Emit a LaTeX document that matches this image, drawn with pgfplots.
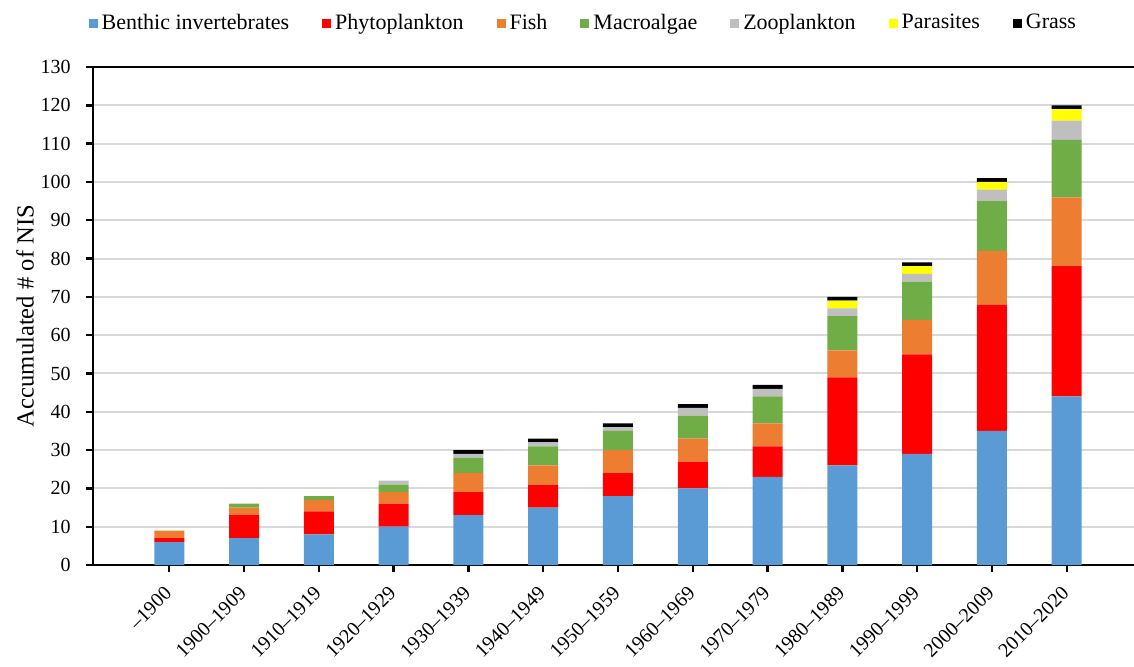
\documentclass[border=0pt]{standalone}
\usepackage{fontspec}
\setmainfont{Liberation Serif}
\usepackage{pgfplots}
\pgfplotsset{compat=1.18}
\usepackage{pgfplotstable}
\definecolor{cB}{HTML}{5B9BD5}
\definecolor{cP}{HTML}{FF0000}
\definecolor{cF}{HTML}{ED7D31}
\definecolor{cM}{HTML}{70AD47}
\definecolor{cZ}{HTML}{BFBFBF}
\definecolor{cPa}{HTML}{FFFF00}
\definecolor{cG}{HTML}{000000}
\definecolor{gridc}{HTML}{D9D9D9}
\pgfplotstableread{
x B P F M Z Pa G
0 6 1 2 0 0 0 0
1 7 6 2 1 0 0 0
2 8 6 3 1 0 0 0
3 10 6 3 2 1 0 0
4 13 6 5 4 1 0 1
5 15 6 5 5 1 0 1
6 18 6 6 5 1 0 1
7 20 7 6 6 2 0 1
8 23 8 6 7 2 0 1
9 26 23 7 9 2 2 1
10 29 26 9 10 2 2 1
11 35 33 14 13 3 2 1
12 44 34 18 15 5 3 1
}\data
\begin{document}
\begin{tikzpicture}
\useasboundingbox (0,0) rectangle (567pt,333pt);
\begin{axis}[
  at={(46.5pt,50.5pt)}, anchor=south west,
  scale only axis, width=520.5pt, height=249pt,
  ybar stacked, bar width=15pt,
  xmin=-1.02, xmax=12.9, ymin=0, ymax=130,
  ytick={0,10,...,130},
  xtick={0,...,12},
  xticklabels={--1900,1900--1909,1910--1919,1920--1929,1930--1939,1940--1949,1950--1959,1960--1969,1970--1979,1980--1989,1990--1999,2000--2009,2010--2020},
  axis x line*=box, axis y line*=left,
  xtick pos=left, ytick pos=left,
  axis line style={line width=1.2pt, black},
  major tick style={line width=1.2pt, black},
  tick align=outside, major tick length=3.5pt,
  ymajorgrids, grid style={gridc, line width=1pt},
  /pgf/number format/assume math mode=true,
  yticklabel style={font=\fontsize{10}{12}\selectfont, inner sep=0pt},
  yticklabel shift=7.5pt,
  xticklabel style={font=\fontsize{10}{12}\selectfont, inner sep=0pt, rotate=45, anchor=north east, xshift=-6.7pt, yshift=-2.4pt},
  ylabel={Accumulated \# of NIS},
  ylabel style={font=\fontsize{12.3}{14}\selectfont, at={(axis description cs:-0.0653,0.5)}, anchor=center},
  legend columns=7,
  legend style={draw=none, fill=none, at={(0.472,1.088)}, anchor=center, font=\fontsize{11}{13}\selectfont, /tikz/every even column/.append style={column sep=14.5pt}},
  legend image code/.code={\fill[#1] (0pt,-2.25pt) rectangle (4.5pt,2.25pt);},
]
\addplot[fill=cB, draw=none] table[x=x, y=B] {\data};
\addplot[fill=cP, draw=none] table[x=x, y=P] {\data};
\addplot[fill=cF, draw=none] table[x=x, y=F] {\data};
\addplot[fill=cM, draw=none] table[x=x, y=M] {\data};
\addplot[fill=cZ, draw=none] table[x=x, y=Z] {\data};
\addplot[fill=cPa, draw=none] table[x=x, y=Pa] {\data};
\addplot[fill=cG, draw=none] table[x=x, y=G] {\data};
\legend{Benthic invertebrates, Phytoplankton, Fish, Macroalgae, Zooplankton, Parasites, Grass}
\end{axis}
\end{tikzpicture}
\end{document}
